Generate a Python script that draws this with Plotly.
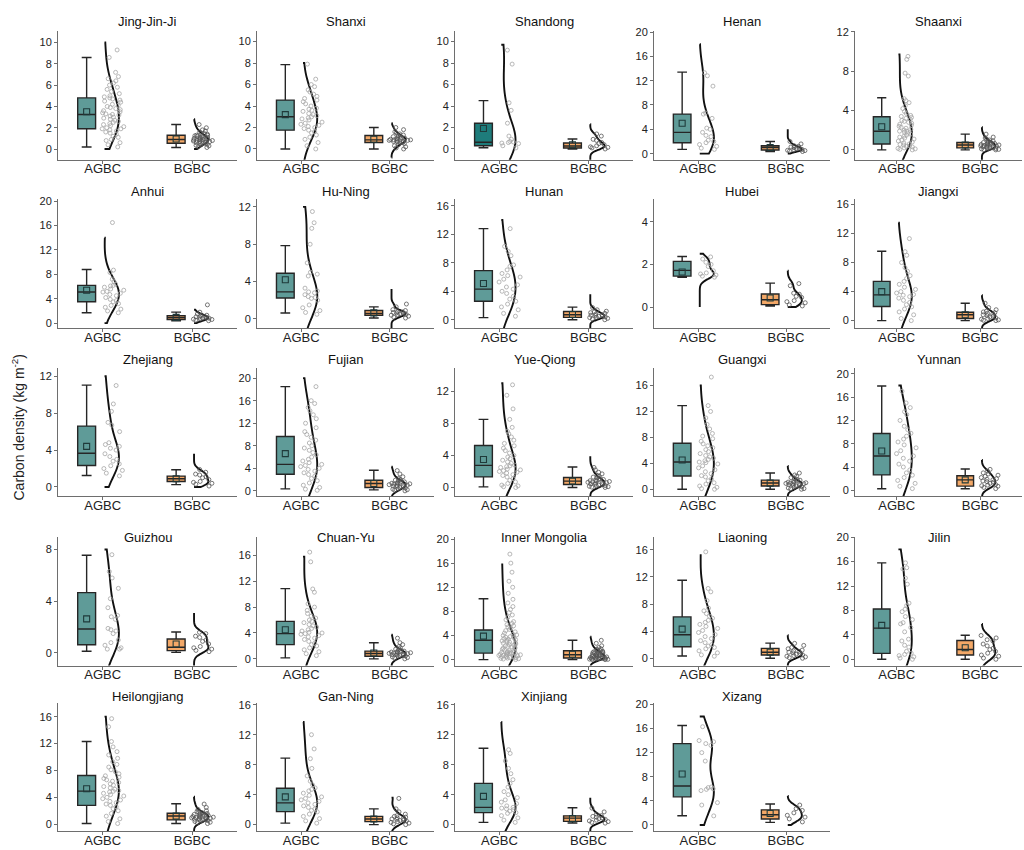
import numpy as np
import plotly.graph_objects as go

REGIONS = ["Jing-Jin-Ji", "Shanxi", "Shandong", "Henan", "Shaanxi",
           "Anhui", "Hu-Ning", "Hunan", "Hubei", "Jiangxi",
           "Zhejiang", "Fujian", "Yue-Qiong", "Guangxi", "Yunnan",
           "Guizhou", "Chuan-Yu", "Inner Mongolia", "Liaoning", "Jilin",
           "Heilongjiang", "Gan-Ning", "Xinjiang", "Xizang"]
GROUPS = ["AGBC", "BGBC"]

# AGBC box statistics (kg m-2)
AG_LO = [0.2, 0.0, 0.12, 0.7, 0.0, 1.7, 0.64, 0.3, 1.39, 0.0, 1.25, 0.35, 0.08, 0.0, 0.28,
         0.13, 0.15, 0.0, 0.34, 0.0, 0.1, 0.2, 0.3, 1.52]
AG_Q1 = [1.9, 1.75, 0.3, 1.8, 0.6, 3.5, 2.25, 2.6, 1.45, 1.94, 2.33, 2.94, 1.32, 2.05, 2.65,
         0.64, 2.2, 1.08, 1.7, 0.97, 2.8, 1.73, 1.6, 4.66]
AG_MED = [3.25, 3.0, 0.63, 3.5, 1.9, 5.1, 2.9, 4.3, 1.72, 3.55, 3.66, 4.7, 2.76, 4.2, 5.9,
          1.85, 3.9, 3.2, 3.46, 5.1, 4.93, 2.9, 2.3, 6.45]
AG_Q3 = [4.8, 4.55, 2.4, 6.5, 3.36, 6.2, 4.9, 6.9, 2.14, 5.4, 6.6, 9.65, 5.24, 7.1, 9.75,
         4.67, 5.8, 4.9, 6.1, 8.25, 7.24, 4.85, 5.5, 13.5]
AG_HI = [8.6, 7.85, 4.5, 13.4, 5.3, 8.8, 7.85, 12.8, 2.37, 9.55, 11.04, 18.5, 8.5, 12.9, 17.9,
         7.56, 10.85, 10.1, 11.5, 15.8, 12.3, 8.87, 10.2, 16.5]
AG_MEAN = [3.5, 3.2, 1.9, 5.0, 2.35, 5.4, 4.2, 5.1, 1.64, 4.0, 4.4, 6.6, 3.5, 4.5, 6.76,
           2.64, 4.5, 3.9, 4.3, 5.55, 5.27, 3.7, 3.77, 8.46]

# BGBC box statistics (kg m-2)
BG_LO = [0.15, 0.0, 0.0, 0.35, 0.0, 0.4, 0.1, 0.0, 0.05, 0.0, 0.25, 0.18, 0.0, 0.0, 0.28,
         0.05, 0.0, 0.0, 0.0, 0.0, 0.1, 0.0, 0.22, 0.43]
BG_Q1 = [0.55, 0.6, 0.09, 0.6, 0.2, 0.6, 0.4, 0.33, 0.11, 0.3, 0.6, 0.6, 0.37, 0.5, 0.73,
         0.18, 0.4, 0.27, 0.49, 0.7, 0.64, 0.4, 0.43, 0.98]
BG_MED = [0.9, 0.85, 0.28, 1.0, 0.5, 0.9, 0.6, 0.7, 0.34, 0.8, 0.9, 1.3, 0.79, 0.97, 1.8,
          0.44, 0.82, 0.81, 0.88, 1.6, 1.23, 0.75, 0.87, 1.68]
BG_Q3 = [1.3, 1.25, 0.56, 1.3, 0.75, 1.2, 0.9, 1.17, 0.61, 1.15, 1.18, 1.88, 1.24, 1.4, 2.5,
         1.08, 1.2, 1.46, 1.46, 3.07, 1.63, 1.1, 1.17, 2.5]
BG_HI = [2.3, 2.0, 0.93, 2.0, 1.6, 1.8, 1.3, 1.77, 1.12, 2.4, 1.86, 3.65, 2.56, 2.5, 3.66,
         1.62, 2.5, 3.2, 2.24, 3.94, 3.05, 2.1, 2.25, 3.47]
BG_MEAN = [0.95, 0.9, 0.4, 1.0, 0.5, 0.95, 0.65, 0.75, 0.42, 0.8, 0.9, 1.3, 0.8, 0.95, 1.8,
           0.69, 0.9, 0.9, 0.9, 1.9, 1.2, 0.75, 0.8, 1.9]

AG_POINTS = [
    [0.2, 0.4, 0.6, 0.8, 0.9, 1.1, 1.2, 1.4, 1.5, 1.6, 1.7, 1.8, 1.9, 1.9, 2.0, 2.1, 2.2, 2.3, 2.4,
     2.5, 2.6, 2.7, 2.8, 2.9, 3.0, 3.1, 3.2, 3.25, 3.3, 3.4, 3.5, 3.6, 3.7, 3.8, 3.9, 4.0, 4.1,
     4.2, 4.4, 4.5, 4.6, 4.7, 4.8, 4.9, 5.0, 5.2, 5.4, 5.6, 5.8, 6.0, 6.2, 6.4, 6.6, 6.8, 7.2, 8.6, 9.3],
    [0.0, 0.3, 0.6, 0.9, 1.1, 1.3, 1.5, 1.6, 1.75, 1.9, 2.0, 2.1, 2.2, 2.3, 2.4, 2.5, 2.7, 2.8, 2.9,
     3.0, 3.1, 3.2, 3.3, 3.5, 3.6, 3.7, 3.8, 4.0, 4.2, 4.4, 4.55, 4.7, 4.9, 5.1, 5.3, 5.5, 5.8, 6.0, 6.5, 7.9],
    [0.1, 0.3, 0.5, 0.55, 0.6, 0.65, 0.7, 0.9, 1.2, 2.4, 3.6, 4.3, 7.9, 9.2],
    [0.7, 0.9, 1.2, 1.5, 1.8, 2.0, 2.2, 2.8, 3.0, 3.5, 4.0, 4.2, 5.8, 6.5, 6.7, 11.1, 12.8, 13.3],
    [0.0, 0.05, 0.1, 0.15, 0.2, 0.3, 0.35, 0.4, 0.5, 0.55, 0.6, 0.7, 0.8, 0.9, 1.0, 1.1, 1.2, 1.3,
     1.4, 1.5, 1.6, 1.7, 1.8, 1.9, 1.9, 2.0, 2.1, 2.2, 2.3, 2.4, 2.5, 2.6, 2.7, 2.8, 2.9, 3.0, 3.1,
     3.2, 3.3, 3.4, 3.5, 3.7, 3.9, 4.2, 4.5, 4.8, 5.0, 5.2, 7.5, 7.8, 9.2, 9.5],
    [1.7, 2.0, 2.3, 2.6, 2.9, 3.2, 3.5, 3.7, 3.9, 4.2, 4.5, 4.7, 4.9, 5.1, 5.2, 5.4, 5.6, 5.9,
     6.1, 6.2, 6.4, 6.8, 7.2, 8.3, 8.7, 16.5],
    [0.5, 0.7, 0.9, 1.2, 1.5, 2.0, 2.2, 2.3, 2.4, 2.6, 2.8, 2.9, 3.0, 3.3, 4.6, 4.8, 5.0, 6.0,
     8.0, 9.7, 10.3, 11.5],
    [0.5, 0.9, 1.4, 1.8, 2.2, 2.6, 2.9, 3.3, 3.7, 4.0, 4.3, 4.6, 4.9, 5.3, 5.7, 6.0, 6.2, 6.5,
     7.0, 7.5, 7.7, 9.0, 9.6, 10.3, 12.8],
    [1.4, 1.45, 1.5, 1.55, 1.6, 1.7, 1.9, 2.0, 2.1, 2.25, 2.35],
    [0.0, 0.3, 0.8, 1.2, 1.6, 1.9, 2.2, 2.5, 2.8, 3.1, 3.3, 3.5, 3.6, 3.8, 4.0, 4.3, 4.6, 5.0,
     5.4, 5.8, 6.2, 6.8, 7.3, 8.0, 9.0, 9.5, 11.3],
    [1.2, 1.5, 1.8, 2.0, 2.3, 2.5, 2.8, 3.0, 3.3, 3.6, 4.0, 4.2, 4.4, 4.6, 4.8, 6.0, 6.7, 7.0,
     8.2, 9.0, 11.0],
    [0.1, 0.3, 0.6, 1.0, 1.4, 1.8, 2.2, 2.6, 2.9, 3.2, 3.5, 3.8, 4.0, 4.3, 4.5, 4.7, 5.0, 5.3,
     5.6, 6.0, 6.4, 6.8, 7.2, 7.6, 8.0, 8.5, 9.0, 9.5, 10.0, 10.5, 11.2, 12.0, 12.8, 13.5, 14.2,
     14.8, 15.5, 16.0, 18.5],
    [0.0, 0.1, 0.2, 0.3, 0.5, 0.7, 0.9, 1.1, 1.3, 1.5, 1.6, 1.8, 1.9, 2.0, 2.1, 2.2, 2.3, 2.5,
     2.6, 2.7, 2.8, 3.0, 3.2, 3.4, 3.6, 3.8, 4.0, 4.3, 4.6, 4.9, 5.2, 5.5, 5.9, 6.3, 6.7, 7.0,
     7.5, 8.5, 9.8, 11.5, 12.8],
    [0.0, 0.1, 0.3, 0.5, 0.8, 1.0, 1.3, 1.6, 1.9, 2.1, 2.4, 2.7, 3.0, 3.3, 3.6, 3.9, 4.1, 4.2,
     4.4, 4.6, 4.8, 5.0, 5.2, 5.5, 5.8, 6.1, 6.4, 6.7, 7.0, 7.4, 7.8, 8.2, 8.6, 9.3, 10.0, 11.0,
     12.0, 12.9, 17.3],
    [0.3, 0.7, 1.2, 1.7, 2.2, 2.6, 3.0, 3.5, 4.0, 4.5, 5.0, 5.5, 5.9, 6.3, 6.8, 7.3, 7.8, 8.3,
     8.8, 9.3, 9.8, 10.4, 11.0, 12.0, 13.0, 13.5, 14.2, 15.0, 17.0],
    [0.3, 0.3, 0.4, 0.6, 0.8, 1.0, 1.5, 1.7, 1.8, 1.9, 2.6, 2.8, 2.9, 3.5, 4.2, 5.0, 5.8, 6.3, 7.6],
    [0.5, 0.8, 1.1, 1.4, 1.7, 2.0, 2.2, 2.4, 2.7, 3.0, 3.2, 3.4, 3.6, 3.8, 3.9, 4.0, 4.1, 4.3,
     4.5, 4.7, 4.9, 5.1, 5.3, 5.6, 5.8, 6.0, 6.3, 6.6, 7.0, 7.5, 8.0, 8.5, 10.3, 10.8, 15.0, 16.5],
    [0.0, 0.1, 0.15, 0.2, 0.25, 0.3, 0.35, 0.4, 0.45, 0.5, 0.55, 0.6, 0.65, 0.7, 0.75, 0.8, 0.85,
     0.9, 0.95, 1.0, 1.05, 1.1, 1.15, 1.2, 1.25, 1.3, 1.4, 1.5, 1.6, 1.7, 1.8, 1.9, 2.0, 2.1, 2.2,
     2.3, 2.4, 2.5, 2.6, 2.7, 2.8, 2.9, 3.0, 3.1, 3.2, 3.3, 3.4, 3.5, 3.6, 3.7, 3.8, 3.9, 4.0,
     4.1, 4.2, 4.4, 4.6, 4.8, 5.0, 5.2, 5.4, 5.6, 5.8, 6.0, 6.3, 6.6, 7.0, 7.4, 7.8, 8.3, 8.8,
     9.4, 10.0, 11.0, 12.0, 13.0, 14.5, 16.0, 17.5],
    [0.3, 0.5, 0.8, 1.1, 1.4, 1.6, 1.8, 2.0, 2.3, 2.6, 2.9, 3.2, 3.5, 3.8, 4.1, 4.4, 4.7, 5.0,
     5.3, 5.6, 5.9, 6.2, 6.6, 7.0, 7.4, 8.5, 9.8, 10.3, 15.7],
    [0.0, 0.2, 0.4, 0.6, 0.8, 1.0, 1.3, 2.0, 2.3, 3.0, 3.3, 4.5, 5.2, 5.8, 6.0, 6.5, 7.0, 7.8,
     8.2, 8.8, 9.2, 12.3, 13.3, 14.8, 15.0, 15.8],
    [0.1, 0.4, 0.8, 1.2, 1.6, 2.0, 2.3, 2.6, 2.8, 3.0, 3.2, 3.4, 3.6, 3.8, 4.0, 4.2, 4.4, 4.6,
     4.8, 4.9, 5.0, 5.2, 5.4, 5.6, 5.8, 6.0, 6.2, 6.4, 6.6, 6.8, 7.0, 7.2, 7.5, 7.8, 8.1, 8.5,
     8.9, 9.3, 9.8, 10.3, 10.8, 11.5, 12.3, 14.5, 15.7],
    [0.2, 0.5, 0.8, 1.1, 1.4, 1.7, 1.9, 2.1, 2.3, 2.5, 2.7, 2.9, 3.1, 3.3, 3.5, 3.7, 3.9, 4.2,
     4.5, 4.7, 4.9, 5.3, 5.8, 6.5, 7.5, 8.8, 10.1, 12.0],
    [0.3, 0.6, 0.9, 1.2, 1.5, 1.6, 1.8, 2.0, 2.1, 2.2, 2.3, 2.5, 2.8, 3.0, 3.3, 3.6, 4.0, 4.4,
     5.0, 5.5, 6.0, 6.8, 7.5, 8.5, 9.5, 10.0],
    [1.5, 3.3, 3.7, 5.7, 5.9, 6.0, 6.2, 6.3, 10.6, 12.0, 13.2, 13.5, 13.8, 14.0, 16.3],
]

BG_POINTS = [
    [0.15, 0.2, 0.3, 0.35, 0.4, 0.45, 0.5, 0.55, 0.55, 0.6, 0.65, 0.7, 0.7, 0.75, 0.8, 0.8, 0.85,
     0.85, 0.9, 0.9, 0.95, 0.95, 1.0, 1.0, 1.05, 1.1, 1.1, 1.15, 1.2, 1.25, 1.3, 1.3, 1.4, 1.45,
     1.5, 1.6, 1.7, 1.8, 2.0, 2.3],
    [0.0, 0.1, 0.2, 0.3, 0.4, 0.5, 0.55, 0.6, 0.65, 0.7, 0.7, 0.75, 0.8, 0.8, 0.85, 0.85, 0.9,
     0.9, 0.95, 1.0, 1.0, 1.05, 1.1, 1.15, 1.2, 1.25, 1.3, 1.4, 1.5, 1.6, 1.8, 2.0],
    [0.0, 0.1, 0.15, 0.2, 0.3, 0.4, 0.5, 0.6, 0.8, 0.9, 1.2, 1.4],
    [0.35, 0.45, 0.5, 0.55, 0.6, 0.7, 0.8, 0.9, 1.0, 1.1, 1.2, 1.3, 1.6, 2.0],
    [0.0, 0.02, 0.05, 0.1, 0.1, 0.15, 0.2, 0.2, 0.25, 0.3, 0.3, 0.35, 0.4, 0.4, 0.45, 0.5, 0.5,
     0.55, 0.6, 0.6, 0.65, 0.7, 0.7, 0.75, 0.8, 0.85, 0.9, 1.0, 1.1, 1.2, 1.3, 1.6],
    [0.4, 0.5, 0.6, 0.65, 0.7, 0.8, 0.85, 0.9, 1.0, 1.05, 1.1, 1.2, 1.3, 1.5, 1.8, 3.0],
    [0.1, 0.2, 0.3, 0.4, 0.45, 0.5, 0.55, 0.6, 0.65, 0.7, 0.75, 0.8, 0.9, 1.0, 1.3, 1.6],
    [0.0, 0.1, 0.2, 0.3, 0.35, 0.4, 0.5, 0.55, 0.6, 0.65, 0.7, 0.8, 0.9, 1.0, 1.1, 1.2, 1.4, 1.7],
    [0.05, 0.1, 0.2, 0.25, 0.3, 0.45, 0.5, 0.6, 0.65, 1.0, 1.1],
    [0.0, 0.05, 0.1, 0.2, 0.3, 0.4, 0.5, 0.6, 0.7, 0.8, 0.9, 1.0, 1.1, 1.2, 1.3, 1.5, 1.8, 2.4],
    [0.1, 0.3, 0.4, 0.5, 0.6, 0.8, 1.0, 1.1, 1.3, 1.4, 1.6, 1.9],
    [0.0, 0.1, 0.2, 0.3, 0.4, 0.5, 0.6, 0.7, 0.8, 0.85, 0.9, 0.95, 1.0, 1.1, 1.2, 1.25, 1.3, 1.35,
     1.4, 1.5, 1.6, 1.7, 1.8, 1.9, 2.0, 2.2, 2.5, 3.0, 3.6],
    [0.0, 0.05, 0.1, 0.15, 0.2, 0.25, 0.3, 0.35, 0.4, 0.45, 0.5, 0.55, 0.6, 0.65, 0.7, 0.75, 0.8,
     0.85, 0.9, 0.95, 1.0, 1.1, 1.2, 1.3, 1.4, 1.5, 1.7, 1.9, 2.2, 2.5],
    [0.0, 0.05, 0.1, 0.2, 0.3, 0.4, 0.5, 0.55, 0.6, 0.7, 0.75, 0.8, 0.85, 0.9, 0.95, 1.0, 1.05,
     1.1, 1.2, 1.3, 1.4, 1.5, 1.6, 1.8, 2.0, 2.2, 2.5],
    [0.3, 0.5, 0.7, 0.8, 0.9, 1.0, 1.2, 1.4, 1.5, 1.6, 1.8, 1.9, 2.0, 2.2, 2.4, 2.6, 2.8, 3.0,
     3.3, 3.6],
    [0.1, 0.2, 0.3, 0.4, 0.5, 0.7, 0.9, 1.0, 1.2, 1.3, 1.5, 1.6],
    [0.0, 0.1, 0.2, 0.3, 0.4, 0.45, 0.5, 0.55, 0.6, 0.65, 0.7, 0.75, 0.8, 0.85, 0.9, 0.95, 1.0,
     1.05, 1.1, 1.15, 1.2, 1.3, 1.4, 1.5, 1.7, 1.9, 2.2, 2.5, 3.2],
    [0.0, 0.02, 0.05, 0.08, 0.1, 0.12, 0.15, 0.18, 0.2, 0.22, 0.25, 0.28, 0.3, 0.35, 0.4, 0.45,
     0.5, 0.55, 0.6, 0.65, 0.7, 0.75, 0.8, 0.85, 0.9, 0.95, 1.0, 1.05, 1.1, 1.15, 1.2, 1.3, 1.4,
     1.5, 1.6, 1.7, 1.8, 2.0, 2.3, 2.7, 3.2],
    [0.0, 0.1, 0.2, 0.3, 0.4, 0.5, 0.6, 0.7, 0.8, 0.9, 1.0, 1.1, 1.2, 1.4, 1.6, 1.9, 2.2],
    [0.0, 0.2, 0.5, 0.7, 1.0, 1.3, 1.6, 1.8, 2.2, 2.5, 3.0, 3.2, 3.5, 3.9],
    [0.1, 0.2, 0.3, 0.4, 0.5, 0.55, 0.6, 0.65, 0.7, 0.75, 0.8, 0.85, 0.9, 0.95, 1.0, 1.05, 1.1,
     1.15, 1.2, 1.25, 1.3, 1.35, 1.4, 1.45, 1.5, 1.55, 1.6, 1.7, 1.8, 1.9, 2.0, 2.2, 2.5, 3.0],
    [0.0, 0.1, 0.2, 0.3, 0.4, 0.5, 0.55, 0.6, 0.7, 0.75, 0.8, 0.9, 1.0, 1.1, 1.2, 1.4, 1.7, 2.1, 3.5],
    [0.2, 0.3, 0.4, 0.5, 0.6, 0.7, 0.8, 0.9, 1.0, 1.1, 1.2, 1.4, 1.7, 2.2],
    [0.5, 1.0, 1.3, 1.6, 2.0, 2.4, 2.7, 3.3],
]

# value extent of the half-violin density curves
AG_CURVE = [(0, 10), (-2, 8), (-2, 9.7), (0, 18), (-1.5, 9.7), (0, 14), (-1.5, 12), (-1.5, 14),
            (0, 2.5), (-1.5, 13.5), (0, 12), (-1.5, 20), (-1.5, 13), (-1.5, 16), (-1.5, 18),
            (-1.5, 8), (-1.5, 15.8), (-1.5, 15.8), (-1.5, 15.2), (-1.5, 18), (-1.5, 16),
            (-1.5, 13.7), (-1.5, 13.7), (0, 18)]
BG_CURVE = [(0, 2.8), (-0.8, 2.4), (-1.2, 2.3), (0, 4.0), (-1.2, 2.3), (0, 2.2), (-1.2, 3.2),
            (-1.2, 3.6), (0, 1.7), (-1.2, 3.5), (0, 3.6), (-1.2, 4.3), (-1.2, 3.9), (-1.2, 3.6),
            (-1.2, 5.2), (-1.2, 3.1), (-1.2, 3.75), (-1.2, 3.8), (-1.2, 3.4), (-1.2, 5.8),
            (-1.2, 4.1), (-1.2, 3.6), (-1.2, 3.6), (0, 4.8)]

# axis ranges and tick spacing (layout)
Y_RANGE = [(-1, 11.1), (-1, 11.0), (-1, 11.0), (-1, 20.2), (-1, 12.1),
           (-0.85, 20.3), (-1, 12.8), (-1.2, 16.9), (-1, 5.05), (-1.06, 16.7),
           (-0.97, 12.9), (-0.9, 21.8), (-1.05, 14.9), (-1.03, 18.7), (-0.96, 21.0),
           (-0.97, 9.0), (-1.03, 18.9), (-0.98, 20.4), (-1.07, 17.95), (-1.02, 20.1),
           (-1.03, 18.0), (-0.87, 16.2), (-0.87, 16.2), (-1.03, 20.2)]
Y_DTICK = [2, 2, 2, 4, 4, 4, 4, 4, 2, 4, 4, 4, 4, 4, 4, 4, 4, 4, 4, 4, 4, 4, 4, 4]

COL_PX = [(58, 237), (257, 434), (455, 633), (654, 830), (855, 1022)]
ROW_PX = [(25, 155), (195, 325), (365, 494), (535, 665), (703, 832)]
TITLE_PX = [16, 187, 356, 536, 696]
W, H = 1024, 850

BOX_FILL = ["#5f9b98", "#f3a867"]
SHANDONG_FILL = "#1e7c7b"
PT_COLOR = ["#a6a6a6", "#555555"]
FONT = "Liberation Sans, Arial, sans-serif"

fig = go.Figure()
annotations = []
layout_axes = {}

for i, name in enumerate(REGIONS):
    r, c = divmod(i, 5)
    sfx = "" if i == 0 else str(i + 1)
    xa, ya = "x" + sfx, "y" + sfx
    x0p, x1p = COL_PX[c]
    y0p, y1p = ROW_PX[r]

    stats = [
        (AG_LO[i], AG_Q1[i], AG_MED[i], AG_Q3[i], AG_HI[i], AG_MEAN[i], AG_POINTS[i], AG_CURVE[i]),
        (BG_LO[i], BG_Q1[i], BG_MED[i], BG_Q3[i], BG_HI[i], BG_MEAN[i], BG_POINTS[i], BG_CURVE[i]),
    ]
    for g, (lo, q1, med, q3, hi, mean, pts, curve) in enumerate(stats):
        fill = BOX_FILL[g]
        if name == "Shandong" and g == 0:
            fill = SHANDONG_FILL
        # box
        fig.add_trace(go.Box(
            x=[g - 0.18], q1=[q1], median=[med], q3=[q3], lowerfence=[lo], upperfence=[hi],
            width=0.2, fillcolor=fill, line=dict(color="#262626", width=1.4),
            whiskerwidth=0.55, boxpoints=False, xaxis=xa, yaxis=ya, hoverinfo="skip"))
        # jittered raw points
        fig.add_trace(go.Box(
            y=pts, x0=g + 0.12, width=0.26, boxpoints="all", jitter=1, pointpos=0,
            fillcolor="rgba(0,0,0,0)", line=dict(color="rgba(0,0,0,0)", width=0),
            whiskerwidth=0,
            marker=dict(symbol="circle-open", size=4, color=PT_COLOR[g], line=dict(width=0.8)),
            xaxis=xa, yaxis=ya, hoverinfo="skip"))
        # half violin density line
        bw = 0.6 * float(np.std(pts))
        fig.add_trace(go.Violin(
            y=pts, x0=g + 0.02, side="positive", width=0.32, points=False,
            spanmode="manual", span=list(curve), bandwidth=bw, scalemode="width",
            line=dict(color="#111111", width=1.9), fillcolor="rgba(0,0,0,0)",
            box_visible=False, meanline_visible=False, xaxis=xa, yaxis=ya, hoverinfo="skip"))
        # mean marker
        fig.add_trace(go.Scatter(
            x=[g - 0.18], y=[mean], mode="markers",
            marker=dict(symbol="square-open", size=6, color="#1f3a3a", line=dict(width=1.1)),
            xaxis=xa, yaxis=ya, hoverinfo="skip"))

    xkey = "xaxis" + sfx
    ykey = "yaxis" + sfx
    layout_axes[xkey] = dict(
        domain=[x0p / W, x1p / W], anchor=ya, type="linear", range=[-0.5, 1.5],
        tickvals=[0, 1], ticktext=GROUPS, showline=True, linecolor="#6e6e6e", linewidth=1,
        ticks="outside", ticklen=3, tickcolor="#6e6e6e", showgrid=False, zeroline=False,
        ticklabelstandoff=-6,
        tickfont=dict(size=13, color="#222222", family=FONT), fixedrange=True)
    layout_axes[ykey] = dict(
        domain=[1 - y1p / H, 1 - y0p / H], anchor=xa, range=list(Y_RANGE[i]),
        tick0=0, dtick=Y_DTICK[i], showline=True, linecolor="#6e6e6e", linewidth=1,
        ticks="outside", ticklen=3, tickcolor="#6e6e6e", showgrid=False, zeroline=False,
        tickfont=dict(size=11, color="#222222", family=FONT), fixedrange=True)
    annotations.append(dict(
        text=name, x=(x0p + x1p) / 2 / W, y=1 - TITLE_PX[r] / H, xref="paper", yref="paper",
        xanchor="center", yanchor="middle", showarrow=False,
        font=dict(size=13, color="#111111", family=FONT)))

annotations.append(dict(
    text="Carbon density (kg m<sup>-2</sup>)", x=18 / W, y=1 - 425 / H, xref="paper", yref="paper",
    xanchor="center", yanchor="middle", textangle=-90, showarrow=False,
    font=dict(size=14, color="#222222", family=FONT)))

fig.update_layout(
    width=W, height=H, autosize=False, margin=dict(l=0, r=0, t=0, b=0),
    paper_bgcolor="white", plot_bgcolor="white", showlegend=False,
    boxmode="overlay", violinmode="overlay", font=dict(family=FONT),
    annotations=annotations, **layout_axes)

fig.write_html("out.html",
               config={"displayModeBar": False},
               post_script="document.body.style.margin='0px';"
                           "document.body.style.overflow='hidden';")
